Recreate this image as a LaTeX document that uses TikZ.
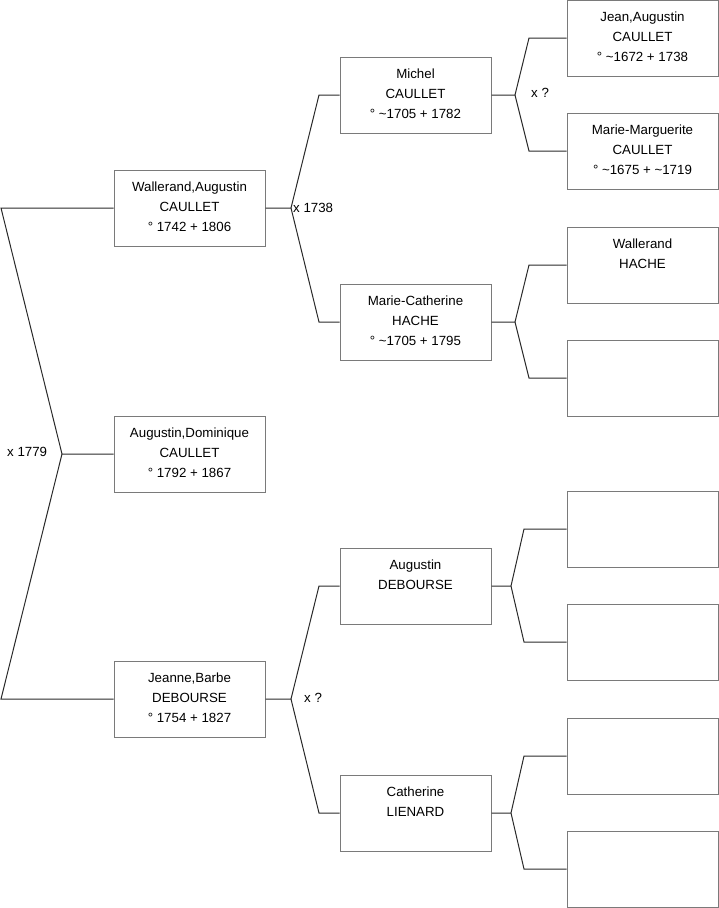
\documentclass[tikz,border=0pt]{standalone}
\usepackage{fontspec}
\setmainfont{Liberation Sans}
\newcommand{\tl}{\textasciitilde}
\begin{document}
\begin{tikzpicture}[x=1pt,y=-1pt,
  box/.style={draw=boxgray,line width=1pt,minimum width=151pt,minimum height=76pt,inner sep=0pt},
  txt/.style={anchor=north,inner sep=0pt,align=center,font=\fontsize{13.3}{19.7}\selectfont,text=black},
  lbl/.style={anchor=west,inner sep=0pt,font=\fontsize{13.3}{15}\selectfont},
  conn/.style={draw=linegray,line width=1pt}]
\definecolor{boxgray}{HTML}{7A7A7A}
\definecolor{linegray}{HTML}{2A2A2A}
\useasboundingbox (0,0) rectangle (719,908);
% boxes
\node[box] (W) at (189.5,208) {};
\node[box] (A) at (189.5,454) {};
\node[box] (J) at (189.5,699) {};
\node[box] (M) at (415.5,95) {};
\node[box] (MC) at (415.5,322) {};
\node[box] (AD) at (415.5,586) {};
\node[box] (CL) at (415.5,813) {};
\node[box] (R1) at (642.5,38) {};
\node[box] (R2) at (642.5,151) {};
\node[box] (R3) at (642.5,265) {};
\node[box] (R4) at (642.5,378) {};
\node[box] (R5) at (642.5,529) {};
\node[box] (R6) at (642.5,642) {};
\node[box] (R7) at (642.5,756) {};
\node[box] (R8) at (642.5,869) {};
% texts
\node[txt] (tW) at ([yshift=-12.3pt]W.north) {Wallerand,Augustin\\CAULLET\\° 1742 + 1806};
\node[txt] (tA) at ([yshift=-12.3pt]A.north) {Augustin,Dominique\\CAULLET\\° 1792 + 1867};
\node[txt] (tJ) at ([yshift=-12.3pt]J.north) {Jeanne,Barbe\\DEBOURSE\\° 1754 + 1827};
\node[txt] (tM) at ([yshift=-12.3pt]M.north) {Michel\\CAULLET\\° \tl1705 + 1782};
\node[txt] (tMC) at ([yshift=-12.3pt]MC.north) {Marie-Catherine\\HACHE\\° \tl1705 + 1795};
\node[txt] (tAD) at ([yshift=-12.3pt]AD.north) {Augustin\\DEBOURSE};
\node[txt] (tCL) at ([yshift=-12.3pt]CL.north) {Catherine\\LIENARD};
\node[txt] (tR1) at ([yshift=-12.3pt]R1.north) {Jean,Augustin\\CAULLET\\° \tl1672 + 1738};
\node[txt] (tR2) at ([yshift=-12.3pt]R2.north) {Marie-Marguerite\\CAULLET\\° \tl1675 + \tl1719};
\node[txt] (tR3) at ([yshift=-12.3pt]R3.north) {Wallerand\\HACHE};
% coordinates
\coordinate (l1) at (1,208);
\coordinate (l2) at (1,699);
\coordinate (v1) at (62,454);
\coordinate (v2) at (291,208);
\coordinate (b2u) at (319,95);
\coordinate (b2d) at (319,322);
\coordinate (v3) at (515,95);
\coordinate (b3u) at (529,38);
\coordinate (b3d) at (529,151);
\coordinate (v4) at (515,322);
\coordinate (b4u) at (529,265);
\coordinate (b4d) at (529,378);
\coordinate (v5) at (291,699);
\coordinate (b5u) at (319,586);
\coordinate (b5d) at (319,813);
\coordinate (v6) at (511,586);
\coordinate (b6u) at (524,529);
\coordinate (b6d) at (524,642);
\coordinate (v7) at (511,813);
\coordinate (b7u) at (524,756);
\coordinate (b7d) at (524,869);
% connectors
\draw[conn] (W.west) -- (l1) -- (v1) -- (A.west);
\draw[conn] (J.west) -- (l2) -- (v1);
\draw[conn] (W.east) -- (v2) -- (b2u) -- (M.west);
\draw[conn] (v2) -- (b2d) -- (MC.west);
\draw[conn] (M.east) -- (v3) -- (b3u) -- (R1.west);
\draw[conn] (v3) -- (b3d) -- (R2.west);
\draw[conn] (MC.east) -- (v4) -- (b4u) -- (R3.west);
\draw[conn] (v4) -- (b4d) -- (R4.west);
\draw[conn] (J.east) -- (v5) -- (b5u) -- (AD.west);
\draw[conn] (v5) -- (b5d) -- (CL.west);
\draw[conn] (AD.east) -- (v6) -- (b6u) -- (R5.west);
\draw[conn] (v6) -- (b6d) -- (R6.west);
\draw[conn] (CL.east) -- (v7) -- (b7u) -- (R7.west);
\draw[conn] (v7) -- (b7d) -- (R8.west);
% labels
\node[lbl] (x1) at (7,452) {x 1779};
\node[lbl] (x2) at (293,208) {x 1738};
\node[lbl] (x3) at (531,93) {x ?};
\node[lbl] (x4) at (304,698) {x ?};
\end{tikzpicture}
\end{document}
